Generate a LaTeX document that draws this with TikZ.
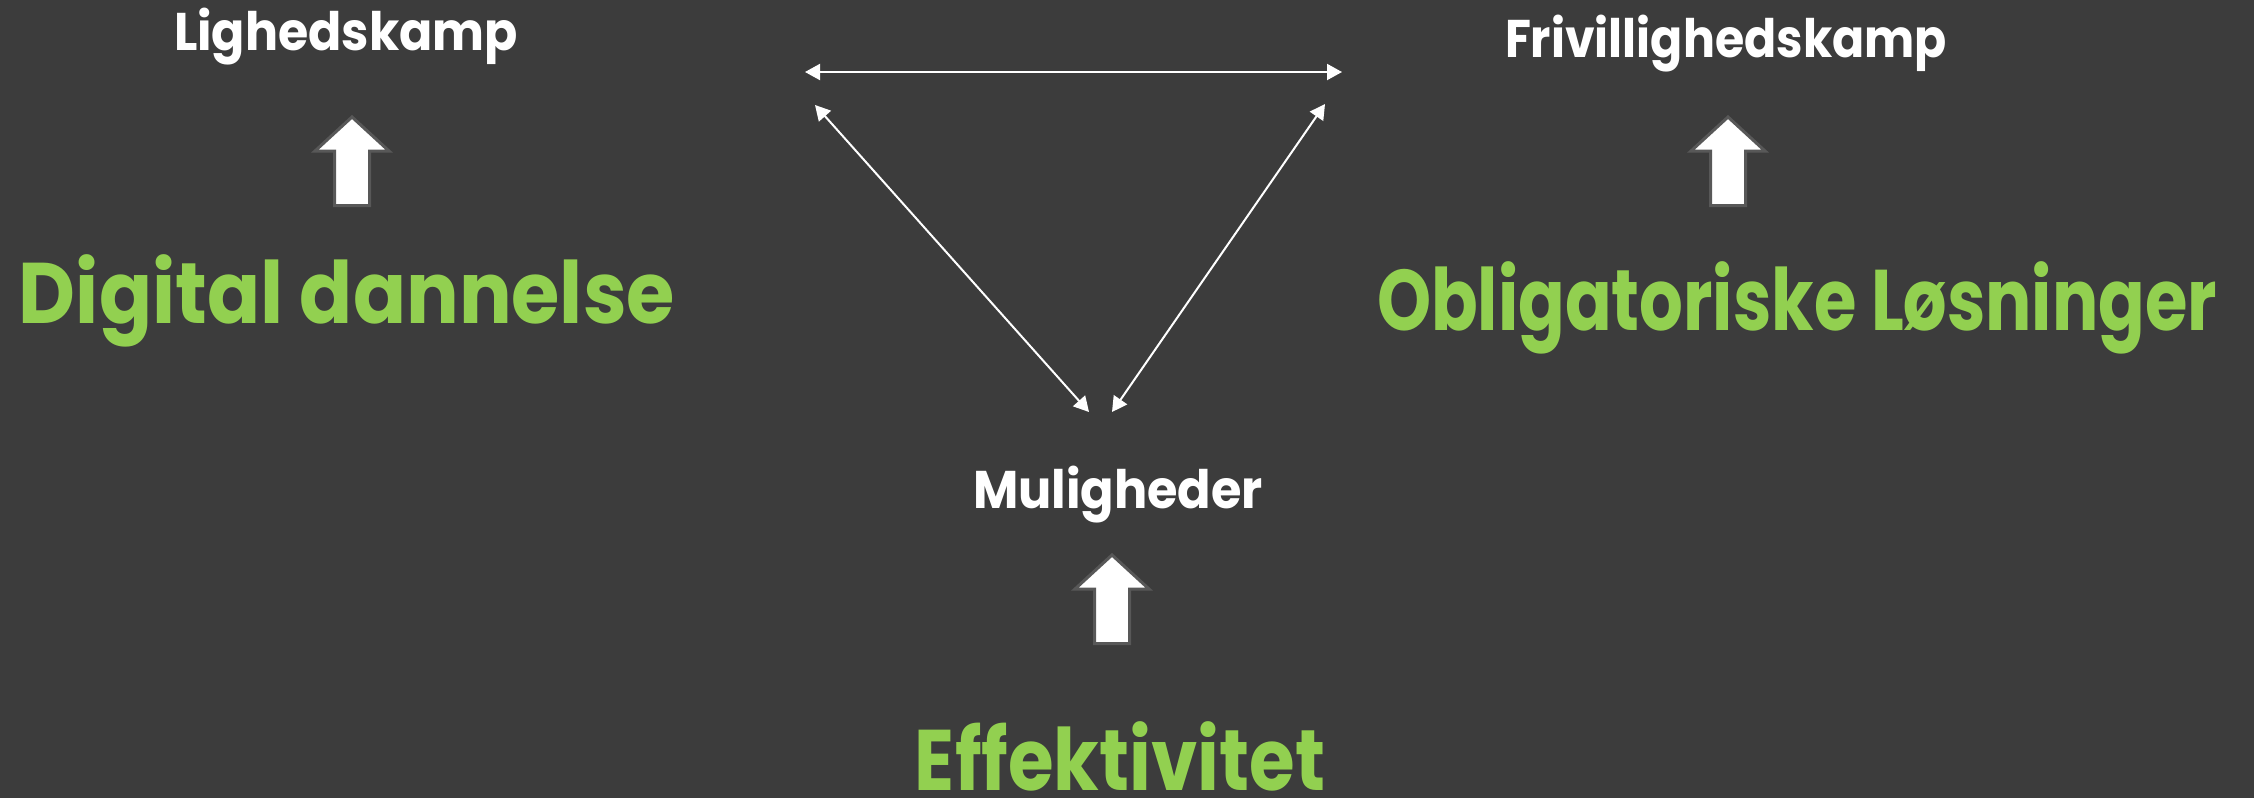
\documentclass[tikz,border=0pt]{standalone}
\usepackage{fontspec}
\newfontfamily\pop{Poppins}
\usetikzlibrary{arrows.meta}
\definecolor{bg}{HTML}{3C3C3C}
\definecolor{lime}{HTML}{92D050}
\definecolor{rim}{HTML}{585858}
\newcommand\fitw[2]{\resizebox{#1}{\height}{#2}}
\tikzset{
  small/.style={text=white, inner sep=0pt, anchor=base, font=\pop\bfseries\fontsize{26.5}{30}\selectfont},
  big/.style={text=lime, inner sep=0pt, anchor=base, font=\pop\bfseries\fontsize{43}{48}\selectfont},
  link/.style={white, line width=1pt, {Triangle[length=7.5pt,width=8pt]}-{Triangle[length=7.5pt,width=8pt]}},
  uparrow/.pic={\draw[fill=white, draw=rim, line width=1.5pt, line join=miter]
     (0,2) -- (37,36) -- (17.5,36) -- (17.5,90.5) -- (-17.5,90.5) -- (-17.5,36) -- (-37,36) -- cycle;}
}
\begin{document}
\begin{tikzpicture}[x=0.5pt,y=-0.5pt]
\fill[bg] (0,0) rectangle (2254,798);
\useasboundingbox (0,0) rectangle (2254,798);
% labels
\node[small] (lig) at (346,50) {\fitw{172pt}{Lighedskamp}};
\node[small] (fri) at (1726,57) {\fitw{221pt}{Frivillighedskamp}};
\node[small] (mul) at (1118,508) {\fitw{145pt}{Muligheder}};
\node[big] (dig) at (347,323) {\fitw{328pt}{Digital dannelse}};
\node[big] (obl) at (1797,330) {\fitw{420pt}{Obligatoriske Løsninger}};
\node[big] (eff) at (1120,790) {\fitw{205pt}{Effektivitet}};
% block arrows
\pic at (352,115) {uparrow};
\pic at (1728,115) {uparrow};
\pic at (1112,553) {uparrow};
% triangle connectors
\coordinate (tl) at (805,72);
\coordinate (tr) at (1342,72);
\coordinate (dl) at (815,105);
\coordinate (bl) at (1089,412);
\coordinate (dr) at (1325,104);
\coordinate (br) at (1112,412);
\draw[link] (tl) -- (tr);
\draw[link] (dl) -- (bl);
\draw[link] (dr) -- (br);
\end{tikzpicture}
\end{document}
